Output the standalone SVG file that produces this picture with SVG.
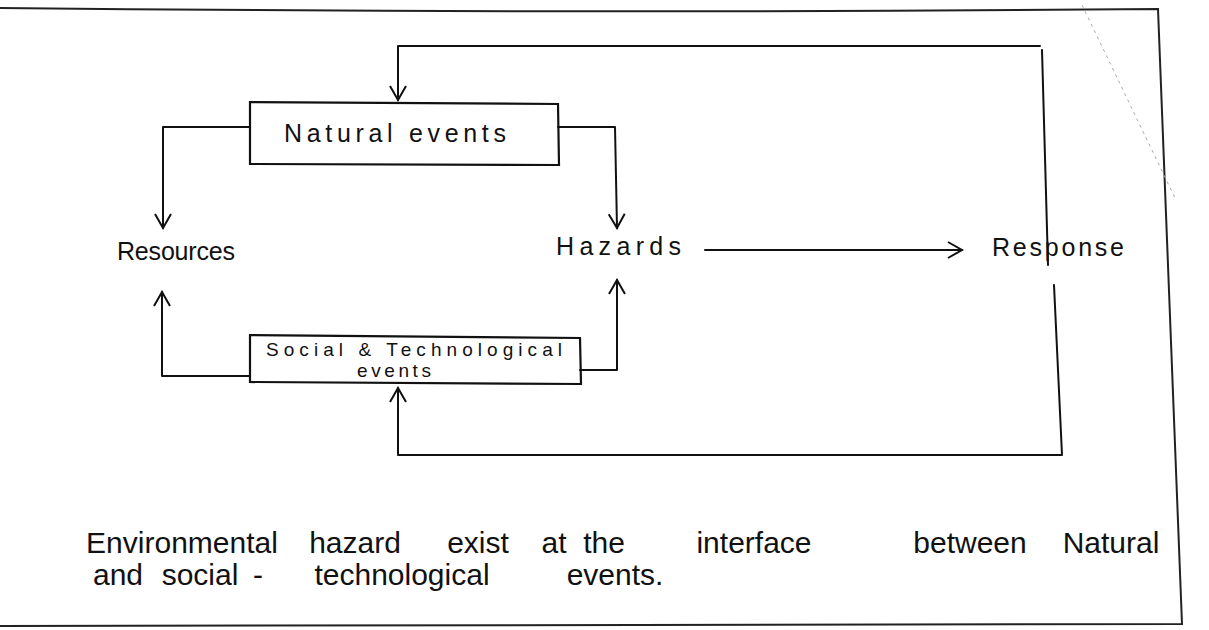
<svg xmlns="http://www.w3.org/2000/svg" width="1209" height="630" viewBox="0 0 1209 630">
<style>
.ln{fill:none;stroke:#111;stroke-width:2;stroke-linecap:round;stroke-linejoin:round}
.fr{fill:none;stroke:#222;stroke-width:2}
.box{fill:none;stroke:#111;stroke-width:2.2}
.t{font-family:"Liberation Sans",Arial,sans-serif;font-size:25px;fill:#111}
.s{font-family:"Liberation Sans",Arial,sans-serif;font-size:19px;fill:#111}
.b{font-family:"Liberation Sans",Arial,sans-serif;font-size:30px;fill:#111;text-anchor:middle}
</style>
<defs>
<marker id="ah" viewBox="0 0 20 20" refX="18" refY="10" markerWidth="20" markerHeight="20" markerUnits="userSpaceOnUse" orient="auto">
<path d="M4,2 L18,10 L4,18" fill="none" stroke="#111" stroke-width="2"/>
</marker>
</defs>
<rect width="1209" height="630" fill="#fff"/>
<g id="frame">
<path class="fr" d="M0,8 Q600,14 1158,9 L1182,624 L0,626"/>
<path d="M1082,5 L1176,200" fill="none" stroke="#aaa" stroke-width="1" stroke-dasharray="3 4"/>
</g>
<g id="connectors">
<path class="ln" d="M1040,46 L398,46 L398,100" marker-end="url(#ah)"/>
<path class="ln" d="M1042,50 L1048,265"/>
<path class="ln" d="M1054,285 L1062,455 L398,455 L398,388" marker-end="url(#ah)"/>
<path class="ln" d="M250,127 L163,127 L163,228" marker-end="url(#ah)"/>
<path class="ln" d="M558,127 L615,127 L617,228" marker-end="url(#ah)"/>
<path class="ln" d="M250,376 L162,376 L162,292" marker-end="url(#ah)"/>
<path class="ln" d="M580,370 L617,370 L617,280" marker-end="url(#ah)"/>
<path class="ln" d="M705,250 L962,250" marker-end="url(#ah)"/>
</g>
<g id="natural">
<path class="box" d="M250,102 L558,104 L559,165 L250,164 Z"/>
<text class="t" x="284" y="142" textLength="222">Natural events</text>
</g>
<g id="social">
<path class="box" d="M250,335 L580,338 L581,384 L250,382 Z"/>
<text class="s" x="266" y="356" textLength="296">Social &amp; Technological</text>
<text class="s" x="357" y="377" textLength="74">events</text>
</g>
<g id="resources">
<text class="t" x="117" y="260" textLength="118">Resources</text>
</g>
<g id="hazards">
<text class="t" x="556" y="255" textLength="125">Hazards</text>
</g>
<g id="response">
<text class="t" x="992" y="256" textLength="132">Response</text>
</g>
<g id="caption">
<text class="b" x="182" y="553">Environmental</text>
<text class="b" x="355" y="553">hazard</text>
<text class="b" x="478" y="553">exist</text>
<text class="b" x="554" y="553">at</text>
<text class="b" x="604" y="553">the</text>
<text class="b" x="754" y="553">interface</text>
<text class="b" x="970" y="553">between</text>
<text class="b" x="1111" y="553">Natural</text>
<text class="b" x="118" y="585">and</text>
<text class="b" x="200" y="585">social</text>
<text class="b" x="258" y="585">-</text>
<text class="b" x="402" y="585">technological</text>
<text class="b" x="615" y="585">events.</text>
</g>
</svg>
